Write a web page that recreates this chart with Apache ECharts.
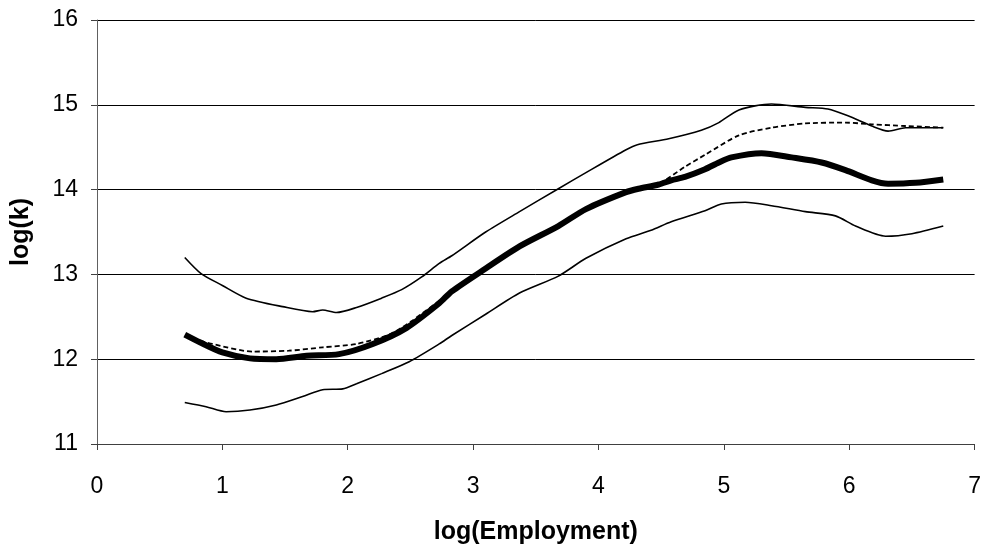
<!DOCTYPE html>
<html>
<head>
<meta charset="utf-8">
<script src="https://cdn.jsdelivr.net/npm/echarts@6/dist/echarts.min.js"></script>
<style>html,body{margin:0;padding:0;background:#fff}#c{width:984px;height:550px}</style>
</head>
<body>
<div id="c"></div>
<script>
var xTicks = [0, 1, 2, 3, 4, 5, 6, 7];
var yTicks = [11, 12, 13, 14, 15, 16];

var upperBand = [[0.70,13.20],[0.83,13.01],[1.00,12.87],[1.19,12.72],[1.48,12.62],[1.72,12.56],[1.80,12.58],[1.91,12.55],[2.07,12.61],[2.27,12.72],[2.43,12.82],[2.59,12.97],[2.73,13.13],[2.83,13.22],[3.10,13.50],[3.37,13.74],[3.68,14.01],[3.90,14.20],[4.22,14.47],[4.31,14.53],[4.56,14.60],[4.82,14.70],[4.96,14.79],[5.12,14.94],[5.38,15.01],[5.65,14.97],[5.83,14.95],[5.99,14.87],[6.18,14.75],[6.31,14.69],[6.45,14.73],[6.75,14.73]];

var mainCurve = [[0.70,12.29],[0.82,12.20],[1.00,12.08],[1.22,12.01],[1.43,12.00],[1.67,12.04],[1.93,12.06],[2.20,12.18],[2.47,12.37],[2.73,12.66],[2.83,12.80],[3.10,13.07],[3.37,13.33],[3.68,13.57],[3.90,13.77],[4.22,13.97],[4.32,14.01],[4.48,14.06],[4.58,14.11],[4.69,14.15],[4.85,14.24],[4.96,14.32],[5.06,14.38],[5.30,14.43],[5.54,14.38],[5.78,14.32],[5.97,14.23],[6.18,14.11],[6.31,14.07],[6.53,14.08],[6.75,14.12]];

var dashedCurve = [[0.70,12.27],[0.92,12.18],[1.24,12.09],[1.53,12.10],[1.80,12.14],[2.07,12.18],[2.33,12.29],[2.51,12.45],[2.73,12.69],[3.10,13.08],[3.68,13.58],[4.22,13.98],[4.48,14.07],[4.69,14.27],[4.85,14.41],[5.12,14.64],[5.38,14.73],[5.65,14.78],[5.97,14.79],[6.18,14.77],[6.45,14.75],[6.75,14.73]];

var lowerBand = [[0.70,11.49],[0.87,11.44],[1.03,11.38],[1.22,11.40],[1.43,11.46],[1.64,11.56],[1.80,11.64],[1.96,11.65],[2.07,11.71],[2.27,11.83],[2.49,11.97],[2.73,12.18],[2.83,12.28],[3.10,12.53],[3.37,12.78],[3.68,12.98],[3.90,13.19],[4.22,13.42],[4.42,13.52],[4.58,13.62],[4.85,13.75],[4.98,13.83],[5.17,13.85],[5.38,13.81],[5.65,13.74],[5.89,13.69],[6.05,13.57],[6.29,13.45],[6.50,13.48],[6.75,13.57]];

var FONT = '"Liberation Sans", Arial, sans-serif';
var chart = echarts.init(document.getElementById('c'));
function line(data, width, type) {
  return {
    type: 'line', data: data, showSymbol: false, smooth: 0.25,
    lineStyle: {color: '#000', width: width, type: type},
    animation: false
  };
}
chart.setOption({
  animation: false,
  backgroundColor: '#fff',
  grid: {left: 97, right: 7, top: 20, bottom: 102},
  xAxis: {
    type: 'value', min: xTicks[0], max: xTicks[xTicks.length - 1], interval: 1,
    name: 'log(Employment)', nameLocation: 'middle', nameGap: 76,
    nameTextStyle: {fontFamily: FONT, fontSize: 25, fontWeight: 'bold', color: '#000'},
    axisLine: {lineStyle: {color: '#404040', width: 1}},
    axisTick: {show: true, inside: false, length: 6, lineStyle: {color: '#404040'}},
    axisLabel: {fontFamily: FONT, fontSize: 23, color: '#000', margin: 31},
    splitLine: {show: false}
  },
  yAxis: {
    type: 'value', min: yTicks[0], max: yTicks[yTicks.length - 1], interval: 1,
    name: 'log(k)', nameLocation: 'middle', nameGap: 63, nameRotate: 90,
    nameTextStyle: {fontFamily: FONT, fontSize: 25, fontWeight: 'bold', color: '#000'},
    axisLine: {show: true, lineStyle: {color: '#606060', width: 1}},
    axisTick: {show: true, inside: false, length: 6, lineStyle: {color: '#404040'}},
    axisLabel: {fontFamily: FONT, fontSize: 23, color: '#000', margin: 19},
    splitLine: {show: true, lineStyle: {color: '#000', width: 1}}
  },
  series: [
    line(upperBand, 1.6, 'solid'),
    line(lowerBand, 1.6, 'solid'),
    line(dashedCurve, 1.8, [5, 3]),
    line(mainCurve, 6, 'solid')
  ]
});
</script>
</body>
</html>
